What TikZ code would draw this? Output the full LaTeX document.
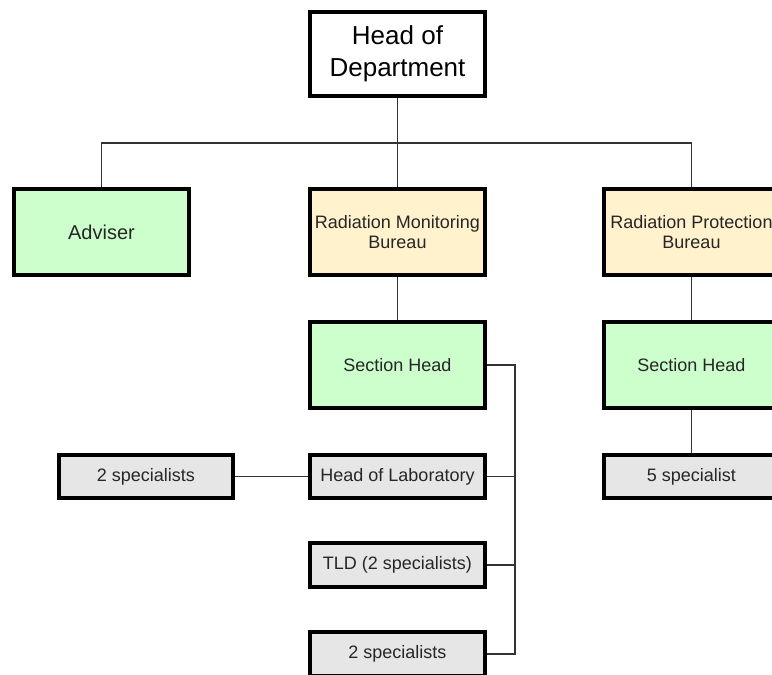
\documentclass[tikz,border=0pt]{standalone}
\usepackage{fontspec}
\setmainfont{Liberation Sans}
\usetikzlibrary{positioning}

\definecolor{boxgreen}{HTML}{CCFFCC}
\definecolor{boxyellow}{HTML}{FFF2CC}
\definecolor{boxgray}{HTML}{E6E6E6}
\definecolor{linegray}{HTML}{333333}

\begin{document}
\begin{tikzpicture}
[x=0.75pt, y=-0.75pt,
 unit/.style={draw=black, line width=3pt, minimum width=131pt, align=center,
   text=black!85, font=\fontsize{13.5}{15.5}\selectfont},
 bigunit/.style={unit, minimum height=64.5pt},
 smallunit/.style={unit, minimum height=32.5pt},
 link/.style={draw=linegray, line width=1pt}]
\useasboundingbox (0,0) rectangle (772,675);
\fill[white] (0,0) rectangle (772,675);
\clip (0,0) rectangle (772,675);

% top level
\node[bigunit, fill=white, text=black, minimum height=63pt,
  font=\fontsize{19.5}{24}\selectfont] (head) at (397.5,54) {Head of\\Department};

% second level
\node[bigunit, fill=boxgreen, font=\fontsize{15}{17}\selectfont] (adviser) at (101.5,232) {Adviser};
\node[bigunit, fill=boxyellow] (monbureau) at (397.5,232) {Radiation Monitoring\\Bureau};
\node[bigunit, fill=boxyellow] (protbureau) at (691.5,232) {Radiation Protection\\Bureau};

% section heads
\node[bigunit, fill=boxgreen] (monhead) at (397.5,365) {Section Head};
\node[bigunit, fill=boxgreen] (prothead) at (691.5,365) {Section Head};

% staff
\node[smallunit, fill=boxgray] (lab) at (397.5,476.5) {Head of Laboratory};
\node[smallunit, fill=boxgray] (tld) at (397.5,565) {TLD (2 specialists)};
\node[smallunit, fill=boxgray] (monstaff) at (397.5,654) {2 specialists};
\node[smallunit, fill=boxgray] (labstaff) at (146,476.5) {2 specialists};
\node[smallunit, fill=boxgray] (protstaff) at (691.5,476.5) {5 specialist};

% connectors
\coordinate (split) at (397.5,143);
\coordinate (bustop) at (515,365);
\coordinate (busbottom) at (515,654);

\draw[link] (head) -- (monbureau);
\draw[link] (adviser.north) |- (split) -| (protbureau.north);
\draw[link] (monbureau) -- (monhead);
\draw[link] (protbureau) -- (prothead);
\draw[link] (prothead) -- (protstaff);
\draw[link] (monhead.east) -- (bustop) -- (busbottom) -- (monstaff.east);
\draw[link] (lab.east) -- (lab.east -| bustop);
\draw[link] (tld.east) -- (tld.east -| bustop);
\draw[link] (labstaff) -- (lab);
\end{tikzpicture}
\end{document}
